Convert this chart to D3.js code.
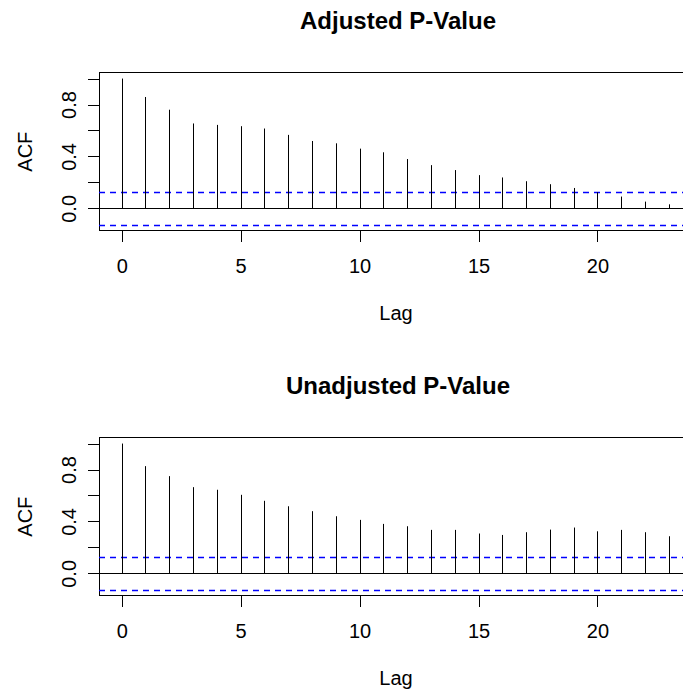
<!DOCTYPE html>
<html>
<head>
<meta charset="utf-8">
<script src="https://cdn.jsdelivr.net/npm/d3@7"></script>
<style>
  html, body { margin: 0; padding: 0; background: #fff; }
  svg { display: block; font-family: "Liberation Sans", Arial, Helvetica, sans-serif; }
</style>
</head>
<body>
<svg id="chart" width="683" height="693"></svg>
<script>
// Autocorrelation estimates by lag for the two p-value series
const lags = d3.range(0, 24);
const acfAdjusted = [1.000, 0.858, 0.760, 0.654, 0.643, 0.633, 0.615, 0.566, 0.519, 0.501,
                     0.460, 0.432, 0.380, 0.333, 0.295, 0.256, 0.238, 0.209, 0.186, 0.157,
                     0.124, 0.091, 0.052, 0.031];
const acfUnadjusted = [1.000, 0.826, 0.749, 0.664, 0.644, 0.605, 0.559, 0.517, 0.479, 0.440,
                       0.412, 0.381, 0.363, 0.335, 0.335, 0.307, 0.296, 0.317, 0.337, 0.353,
                       0.324, 0.335, 0.317, 0.286];
// 95% confidence bound (+/-)
const ciBound = 0.127;
const panelTitles = ["Adjusted P-Value", "Unadjusted P-Value"];
const xTicks = [0, 5, 10, 15, 20];
const yTicks = [0, 0.2, 0.4, 0.6, 0.8, 1.0];
const yTickLabels = ["0.0", "", "0.4", "", "0.8", ""];

const svg = d3.select("#chart");

// Plot region of each panel (panel 2 sits 365px below panel 1)
const plotLeft = 99, plotRight = 695, plotTop = 72.7, plotHeight = 158;
const panelOffset = 365;

const x = d3.scaleLinear().domain([-0.954, 24.1]).range([plotLeft, plotRight]);

function drawPanel(values, title, dy) {
  const g = svg.append("g").attr("transform", `translate(0,${dy})`);
  const lo = Math.min(-ciBound, d3.min(values));
  const hi = Math.max(ciBound, d3.max(values));
  const pad = 0.04 * (hi - lo);
  const y = d3.scaleLinear().domain([lo - pad, hi + pad]).range([plotTop + plotHeight, plotTop]);
  const snap = v => Math.round(v) + 0.5;

  // title
  g.append("text")
    .attr("x", 398).attr("y", 29)
    .attr("text-anchor", "middle")
    .attr("font-weight", "bold")
    .attr("font-size", 24)
    .text(title);

  // frame
  g.append("rect")
    .attr("x", plotLeft).attr("y", plotTop)
    .attr("width", plotRight - plotLeft).attr("height", plotHeight)
    .attr("fill", "none").attr("stroke", "#000").attr("stroke-width", 1)
    .attr("shape-rendering", "crispEdges");

  // x axis
  const xAxis = d3.axisBottom(x).tickValues(xTicks).tickSize(11).tickPadding(17)
    .tickFormat(d3.format("d"));
  const gx = g.append("g")
    .attr("transform", `translate(0,${plotTop + plotHeight})`)
    .call(xAxis);
  gx.select(".domain").remove();
  gx.selectAll("line").attr("stroke", "#000").attr("shape-rendering", "crispEdges");
  gx.selectAll("text").attr("font-size", 20).attr("font-family", "Liberation Sans, Arial, sans-serif")
    .attr("fill", "#000");

  // y axis
  const yAxis = d3.axisLeft(y).tickValues(yTicks).tickSize(11)
    .tickFormat((d, i) => yTickLabels[i]);
  const gy = g.append("g")
    .attr("transform", `translate(${plotLeft},0)`)
    .call(yAxis);
  gy.select(".domain").remove();
  gy.selectAll("line").attr("stroke", "#000").attr("shape-rendering", "crispEdges");
  gy.selectAll("text")
    .attr("font-size", 20).attr("font-family", "Liberation Sans, Arial, sans-serif")
    .attr("fill", "#000")
    .attr("x", null).attr("dy", null)
    .attr("text-anchor", "middle")
    .attr("transform", `translate(${76 - plotLeft},0) rotate(-90)`);

  // axis titles
  g.append("text")
    .attr("x", 396).attr("y", 319.5)
    .attr("text-anchor", "middle").attr("font-size", 20)
    .text("Lag");
  g.append("text")
    .attr("transform", `translate(32,${plotTop + plotHeight / 2}) rotate(-90)`)
    .attr("text-anchor", "middle").attr("font-size", 20)
    .text("ACF");

  // zero line
  g.append("line")
    .attr("x1", plotLeft).attr("x2", plotRight)
    .attr("y1", snap(y(0))).attr("y2", snap(y(0)))
    .attr("stroke", "#000").attr("stroke-width", 1);

  // confidence bounds
  [ciBound, -ciBound].forEach(c => {
    g.append("line")
      .attr("x1", plotLeft).attr("x2", plotRight)
      .attr("y1", snap(y(c))).attr("y2", snap(y(c)))
      .attr("stroke", "#0000ff").attr("stroke-width", 1.3)
      .attr("stroke-dasharray", "6,5");
  });

  // ACF spikes
  g.selectAll("line.spike")
    .data(values)
    .join("line")
    .attr("class", "spike")
    .attr("x1", (d, i) => snap(x(lags[i]))).attr("x2", (d, i) => snap(x(lags[i])))
    .attr("y1", snap(y(0))).attr("y2", d => y(d))
    .attr("stroke", "#000").attr("stroke-width", 1);
}

drawPanel(acfAdjusted, panelTitles[0], 0);
drawPanel(acfUnadjusted, panelTitles[1], panelOffset);
</script>
</body>
</html>
